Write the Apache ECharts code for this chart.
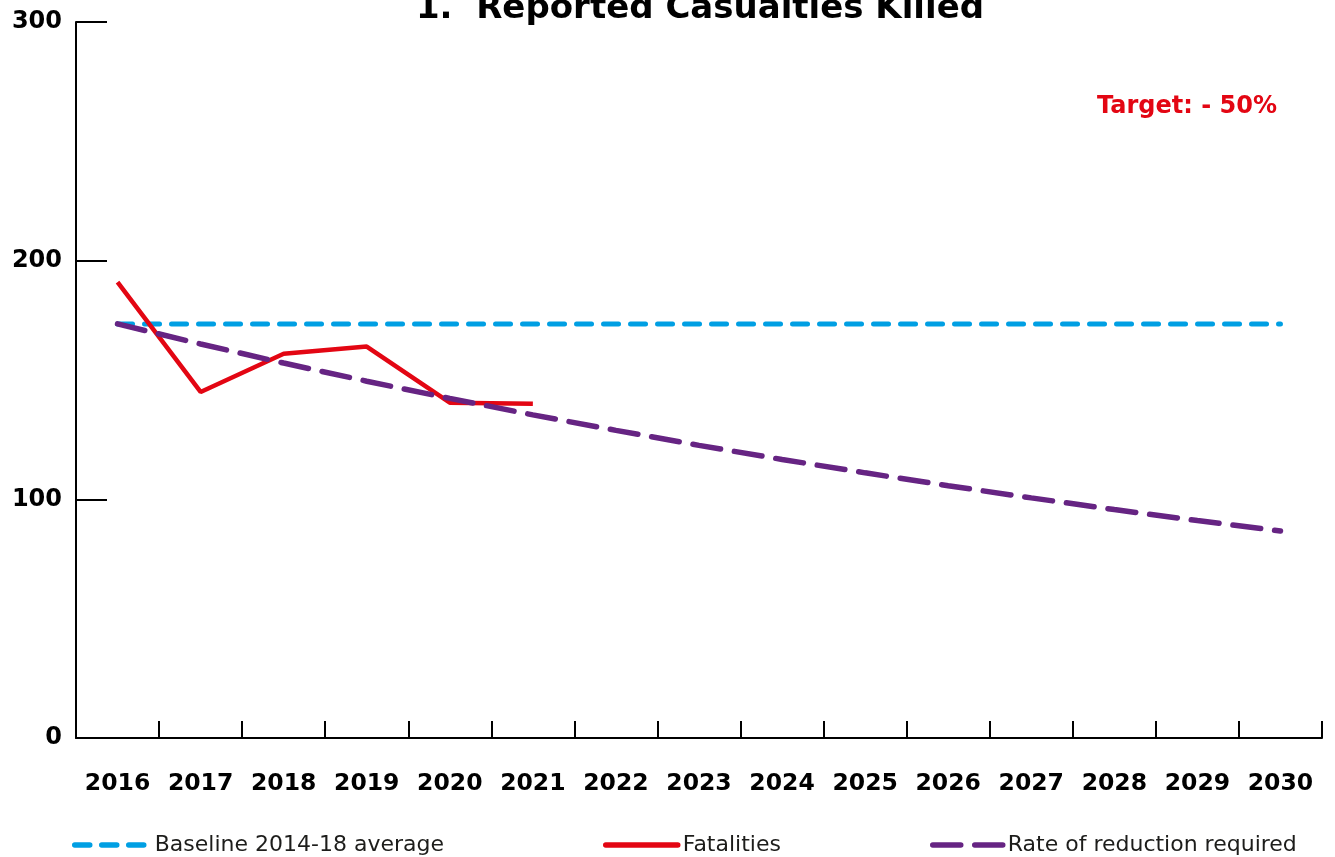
<!DOCTYPE html>
<html>
<head>
<meta charset="utf-8">
<title>Reported Casualties Killed</title>
<script src="https://cdn.jsdelivr.net/npm/echarts@6/dist/echarts.min.js"></script>
<style>
  html, body { margin: 0; padding: 0; background: #fff; }
  #chart { width: 1335px; height: 857px; }
</style>
</head>
<body>
<div id="chart"></div>
<script>
// data
const years = ['2016', '2017', '2018', '2019', '2020', '2021', '2022', '2023',
  '2024', '2025', '2026', '2027', '2028', '2029', '2030'];
const baseline = [173.5, 173.5, 173.5, 173.5, 173.5, 173.5, 173.5, 173.5,
  173.5, 173.5, 173.5, 173.5, 173.5, 173.5, 173.5];
const fatalities = [191, 145, 161, 164, 140.5, 140];
const reduction = [173.5, 165.1, 157.1, 149.5, 142.3, 135.4, 128.9, 122.6,
  116.7, 111.1, 105.7, 100.6, 95.7, 91.1, 86.7];
const yTicks = [0, 100, 200, 300];

const FONT = 'DejaVu Sans';
const BLUE = '#009fe3';
const RED = '#e30613';
const PURPLE = '#662483';

let chart = echarts.init(document.getElementById('chart'), null, {renderer: 'canvas'});

function legendAt(name, left, width) {
  return {
    data: [name],
    left: left,
    top: 834,
    padding: 0,
    itemWidth: width,
    itemHeight: 14,
    itemGap: 0,
    selectedMode: false,
    itemStyle: {opacity: 0},
    lineStyle: {width: 5.5, cap: 'round'},
    textStyle: {fontFamily: FONT, fontSize: 22, color: '#1d1d1b'}
  };
}

let option = {
  animation: false,
  title: {
    text: '1.  Reported Casualties Killed',
    left: 695,
    textAlign: 'center',
    top: -13,
    textStyle: {fontFamily: FONT, fontSize: 34, fontWeight: 'bold', color: '#000'}
  },
  graphic: [{
    type: 'text',
    right: 58,
    top: 95,
    style: {text: 'Target: - 50%', fill: RED, font: 'bold 24px "DejaVu Sans"'}
  }],
  legend: [
    legendAt('Baseline 2014-18 average', 72, 75),
    legendAt('Fatalities', 603, 72),
    legendAt('Rate of reduction required', 930, 70)
  ],
  grid: {left: 76, right: 13, top: 22, bottom: 119, containLabel: false},
  xAxis: {
    type: 'category',
    data: years,
    boundaryGap: true,
    axisLine: {lineStyle: {color: '#000', width: 2}},
    axisTick: {show: true, interval: 0, alignWithLabel: false, inside: true, length: 17, lineStyle: {color: '#000', width: 2}},
    axisLabel: {interval: 0, hideOverlap: false, margin: 34, fontFamily: FONT, fontSize: 23.5, fontWeight: 'bold', color: '#000'},
    splitLine: {show: false}
  },
  yAxis: {
    type: 'value',
    min: yTicks[0],
    max: yTicks[yTicks.length - 1],
    interval: 100,
    axisLine: {show: true, lineStyle: {color: '#000', width: 2}},
    axisTick: {show: true, inside: true, length: 31, lineStyle: {color: '#000', width: 2}},
    axisLabel: {margin: 14, fontFamily: FONT, fontSize: 24, fontWeight: 'bold', color: '#000'},
    splitLine: {show: false}
  },
  series: [
    {
      name: 'Baseline 2014-18 average',
      type: 'line',
      data: baseline,
      symbol: 'none',
      color: BLUE,
      lineStyle: {color: BLUE, width: 5, type: [15, 12], cap: 'round'}
    },
    {
      name: 'Fatalities',
      type: 'line',
      data: fatalities,
      symbol: 'none',
      color: RED,
      lineStyle: {color: RED, width: 4.5}
    },
    {
      name: 'Rate of reduction required',
      type: 'line',
      data: reduction,
      symbol: 'none',
      color: PURPLE,
      lineStyle: {color: PURPLE, width: 5.5, type: [28, 14], cap: 'round'}
    }
  ]
};
option && chart.setOption(option);
</script>
</body>
</html>
